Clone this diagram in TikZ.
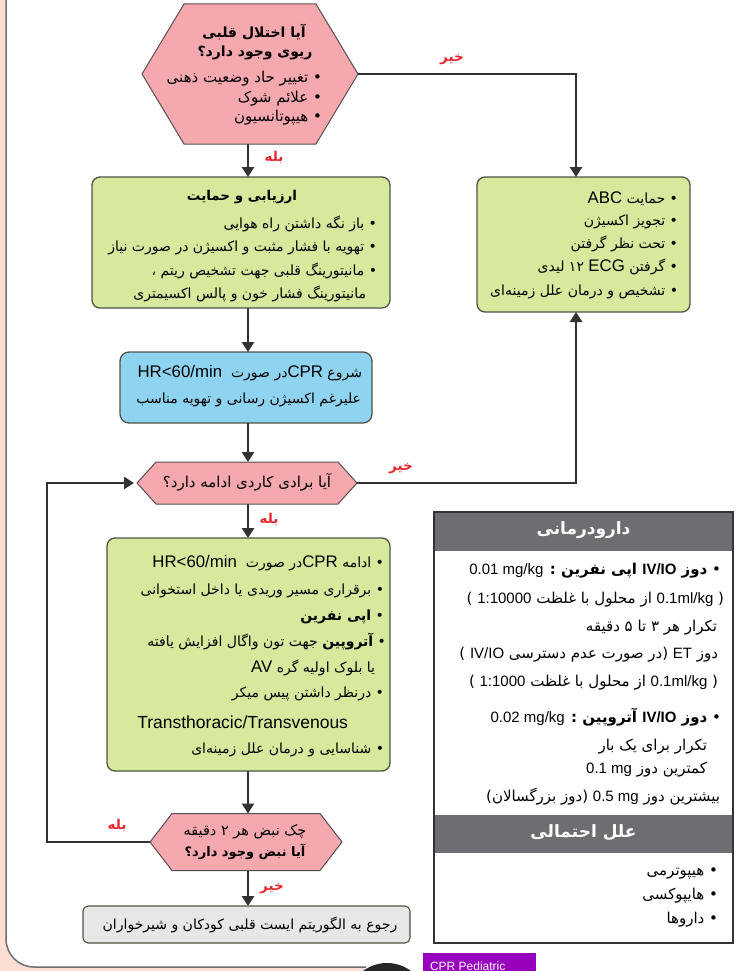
\documentclass[tikz,border=0pt]{standalone}
\usepackage{fontspec}
\setmainfont{Liberation Sans}
\newfontfamily\fa[Script=Arabic]{DejaVu Sans}
\newfontfamily\latA{Liberation Sans}[Scale=1.2]
\TeXXeTstate=1
\usetikzlibrary{arrows.meta,calc}
\definecolor{hexc}{RGB}{245,168,173}
\definecolor{hexline}{RGB}{85,80,80}
\definecolor{greenc}{RGB}{214,233,156}
\definecolor{boxline}{RGB}{80,82,70}
\definecolor{bluec}{RGB}{142,212,241}
\definecolor{grayc}{RGB}{231,231,232}
\definecolor{headc}{RGB}{109,110,113}
\definecolor{redc}{RGB}{232,38,45}
\definecolor{linec}{RGB}{50,50,50}
\definecolor{pinkc}{RGB}{252,222,212}
\definecolor{framec}{RGB}{110,110,110}
\definecolor{purplec}{RGB}{153,0,190}
\newcommand\rtl[1]{{\fa\strut\beginR #1\endR}}
\newcommand\ltr[1]{\beginL{\latA #1}\endL}
\newcommand\ltt[1]{\beginL{\rmfamily #1}\endL}
\newcommand\hexdraw[5]{\filldraw[hexst] ({#1-#3},#2) -- ({#1-#4},{#2-#5}) -- ({#1+#4},{#2-#5}) -- ({#1+#3},#2) -- ({#1+#4},{#2+#5}) -- ({#1-#4},{#2+#5}) -- cycle;}
\tikzset{
  tx/.style={inner sep=0pt, outer sep=0pt, font=\fontsize{14}{17}\selectfont, text=black},
  txr/.style={tx, anchor=east},
  txc/.style={tx, anchor=center},
  hx/.style={tx, font=\fontsize{15}{18}\selectfont},
  tbl/.style={tx, anchor=east, font=\fontsize{15}{18}\selectfont},
  ttl/.style={tx, anchor=center, font=\fontsize{14}{17}\selectfont\bfseries},
  lab/.style={tx, anchor=center, text=redc, font=\fontsize{13.5}{16}\selectfont\bfseries},
  hexst/.style={draw=hexline, fill=hexc, line width=1pt},
  hexnode/.style={inner sep=0pt, outer sep=0pt},
  gbox/.style={draw=boxline, fill=greenc, line width=1.3pt, rounded corners=8pt, inner sep=0pt, outer sep=0pt},
  bbox/.style={draw=boxline, fill=bluec, line width=1.3pt, rounded corners=9pt, inner sep=0pt, outer sep=0pt},
  grbox/.style={draw=boxline, fill=grayc, line width=1.1pt, rounded corners=5pt, inner sep=0pt, outer sep=0pt},
  tabbox/.style={draw=black!80, line width=1.4pt, inner sep=0pt, outer sep=0pt},
  headbox/.style={fill=headc, inner sep=0pt, outer sep=0pt},
  headtx/.style={tx, anchor=center, text=white, font=\fontsize{17}{20}\selectfont\bfseries},
  arr/.style={draw=linec, line width=2.6pt, -{Triangle[length=10pt,width=12pt]}},
}
\begin{document}
\begin{tikzpicture}[x=1pt,y=-1pt]
\useasboundingbox (0,0) rectangle (750,971);
\clip (0,0) rectangle (750,971);
% page frame
\fill[white] (0,0) rectangle (750,971);
\fill[pinkc] (0,0) rectangle (6,971);
\fill[pinkc] (0,930) rectangle (365,971);
\fill[white, rounded corners=28pt] (6,-60) rectangle (800,967);
\draw[framec, line width=1.5pt, rounded corners=28pt] (6,-60) -- (6,967) -- (366,967);
\fill[black!85] (387,1003) circle (40pt);
\fill[purplec] (423,953) rectangle (536,975);
\node[tx, anchor=base west, text=white, font=\fontsize{12}{14}\selectfont] (tab) at (430,970) {CPR Pediatric};

\coordinate (cx) at (248,0);
% hexagon 1
\hexdraw{250}{74}{108}{66}{70}
\node[hexnode, minimum width=216pt, minimum height=140pt] (h1) at (250,74) {};
\node[ttl] (h1a) at (254,33) {\rtl{آیا اختلال قلبی}};
\node[ttl] (h1b) at (255,53) {\rtl{ریوی وجود دارد؟}};
\node[hx, anchor=east] (h1c) at (322,79) {\rtl{• تغییر حاد وضعیت ذهنی}};
\node[hx, anchor=east] (h1d) at (322,99) {\rtl{• علائم شوک}};
\node[hx, anchor=east] (h1e) at (322,118) {\rtl{• هیپوتانسیون}};

% green box 1
\node[gbox, minimum width=298pt, minimum height=131pt] (g1) at (241,242.5) {};
\node[ttl, font=\fontsize{13.5}{17}\selectfont\bfseries] (g1t) at (242,197) {\rtl{ارزیابی و حمایت}};
\node[txr] (g1a) at (377,225) {\rtl{• باز نگه داشتن راه هوایی}};
\node[txr] (g1b) at (377,248) {\rtl{• تهویه با فشار مثبت و اکسیژن در صورت نیاز}};
\node[txr] (g1c) at (377,272) {\rtl{• مانیتورینگ قلبی جهت تشخیص ریتم ،}};
\node[txr] (g1d) at (366,295) {\rtl{مانیتورینگ فشار خون و پالس اکسیمتری}};

% blue box
\node[bbox, minimum width=252pt, minimum height=71pt] (b1) at (246,387.5) {};
\node[txr] (b1a) at (362,374) {\rtl{شروع \ltr{CPR}در صورت~~\ltr{HR<60/min}}};
\node[txr] (b1b) at (361,400) {\rtl{علیرغم اکسیژن رسانی و تهویه مناسب}};

% hexagon 2
\hexdraw{247}{483}{110}{91}{21}
\node[hexnode, minimum width=220pt, minimum height=42pt] (h2) at (247,483) {};
\node[hx, anchor=center] (h2a) at (247,483) {\rtl{آیا برادی کاردی ادامه دارد؟}};

% green box 2
\node[gbox, minimum width=283pt, minimum height=233pt] (g2) at (248.5,654.5) {};
\node[txr] (g2a) at (384,564) {\rtl{• ادامه \ltr{CPR}در صورت~~\ltr{HR<60/min}}};
\node[txr] (g2b) at (384,591) {\rtl{• برقراری مسیر وریدی یا داخل استخوانی}};
\node[txr] (g2c) at (384,617) {\rtl{• {\bfseries اپی نفرین}}};
\node[txr] (g2d) at (386,642) {\rtl{• {\bfseries آتروپین} جهت تون واگال افزایش یافته}};
\node[txr] (g2e) at (375,669) {\rtl{یا بلوک اولیه گره \ltr{AV}}};
\node[txr] (g2f) at (384,694) {\rtl{• درنظر داشتن پیس میکر}};
\node[tx, anchor=east, font=\fontsize{17.5}{20}\selectfont] (g2g) at (348,724) {\strut Transthoracic/Transvenous};
\node[txr] (g2h) at (384,750) {\rtl{• شناسایی و درمان علل زمینه‌ای}};

% hexagon 3
\hexdraw{246}{842}{96}{74}{28.5}
\node[hexnode, minimum width=192pt, minimum height=57pt] (h3) at (246,842) {};
\node[tx, anchor=center, font=\fontsize{14.5}{17}\selectfont] (h3a) at (245,832) {\rtl{چک نبض هر ۲ دقیقه}};
\node[ttl, font=\fontsize{13}{16}\selectfont\bfseries] (h3b) at (245,853) {\rtl{آیا نبض وجود دارد؟}};

% gray box
\node[grbox, minimum width=327pt, minimum height=37pt] (gr) at (246.5,924.5) {};
\node[txc] (gra) at (250,926) {\rtl{رجوع به الگوریتم ایست قلبی کودکان و شیرخواران}};

% right green box
\node[gbox, minimum width=213pt, minimum height=135pt] (r1) at (583.5,244.5) {};
\node[txr] (r1a) at (678,200) {\rtl{• حمایت \ltr{ABC}}};
\node[txr] (r1b) at (678,222) {\rtl{• تجویز اکسیژن}};
\node[txr] (r1c) at (678,245) {\rtl{• تحت نظر گرفتن}};
\node[txr] (r1d) at (678,268) {\rtl{• گرفتن \ltr{ECG} \beginL ۱۲\endL{} لیدی}};
\node[txr] (r1e) at (678,292) {\rtl{• تشخیص و درمان علل زمینه‌ای}};
\coordinate (rtop) at (576,177);
\coordinate (rbot) at (576,312);

% drug table
\node[tabbox, minimum width=299pt, minimum height=431pt] (tb) at (583.5,727.5) {};
\node[headbox, minimum width=297.6pt, minimum height=38pt] (th1) at (583.5,531.7) {};
\node[headtx] (th1t) at (583.5,530) {\rtl{دارودرمانی}};
\node[tbl] (d1) at (721,571) {\rtl{• {\bfseries دوز \ltt{IV/IO} اپی نفرین :} \ltt{0.01 mg/kg}}};
\node[tbl] (d2) at (724,600) {\rtl{( \ltt{0.1ml/kg} از محلول با غلظت \ltt{1:10000} )}};
\node[tbl] (d3) at (717,628) {\rtl{تکرار هر ۳ تا ۵ دقیقه}};
\node[tbl] (d4) at (718,655) {\rtl{دوز \ltt{ET} (در صورت عدم دسترسی \ltt{IV/IO} )}};
\node[tbl] (d5) at (718,683) {\rtl{( \ltt{0.1ml/kg} از محلول با غلظت \ltt{1:1000} )}};
\node[tbl] (d6) at (721,718) {\rtl{• {\bfseries دوز \ltt{IV/IO} آتروپین :} \ltt{0.02 mg/kg}}};
\node[tbl] (d7) at (707,747) {\rtl{تکرار برای یک بار}};
\node[tbl] (d8) at (707,770) {\rtl{کمترین دوز \ltt{0.1 mg}}};
\node[tbl] (d9) at (720,797) {\rtl{بیشترین دوز \ltt{0.5 mg} (دوز بزرگسالان)}};
\node[headbox, minimum width=297.6pt, minimum height=38pt] (th2) at (583.5,834) {};
\node[headtx] (th2t) at (583.5,833) {\rtl{علل احتمالی}};
\node[tbl] (c1) at (718,872) {\rtl{• هیپوترمی}};
\node[tbl] (c2) at (718,896) {\rtl{• هایپوکسی}};
\node[tbl] (c3) at (718,920) {\rtl{• داروها}};

% connectors
\draw[arr] (cx |- h1.south) -- (cx |- g1.north);
\draw[arr] (cx |- g1.south) -- (cx |- b1.north);
\draw[arr] (cx |- b1.south) -- (cx |- h2.north);
\draw[arr] (cx |- h2.south) -- (cx |- g2.north);
\draw[arr] (cx |- g2.south) -- (cx |- h3.north);
\draw[arr] (cx |- h3.south) -- (cx |- gr.north);
\draw[arr] (h1.east) -| (rtop);
\draw[arr] (h2.east) -| (rbot);
\coordinate (loopb) at (47,842);
\coordinate (loopt) at (47,483);
\draw[arr, shorten >=3pt] (h3.west) -- (loopb) -- (loopt) -- (h2.west);

% labels
\node[lab] (l1) at (274,158) {\rtl{بله}};
\node[lab] (l2) at (452,58) {\rtl{خیر}};
\node[lab] (l3) at (401,467) {\rtl{خیر}};
\node[lab] (l4) at (269,520) {\rtl{بله}};
\node[lab] (l5) at (117,826) {\rtl{بله}};
\node[lab] (l6) at (272,887) {\rtl{خیر}};
\end{tikzpicture}
\end{document}
